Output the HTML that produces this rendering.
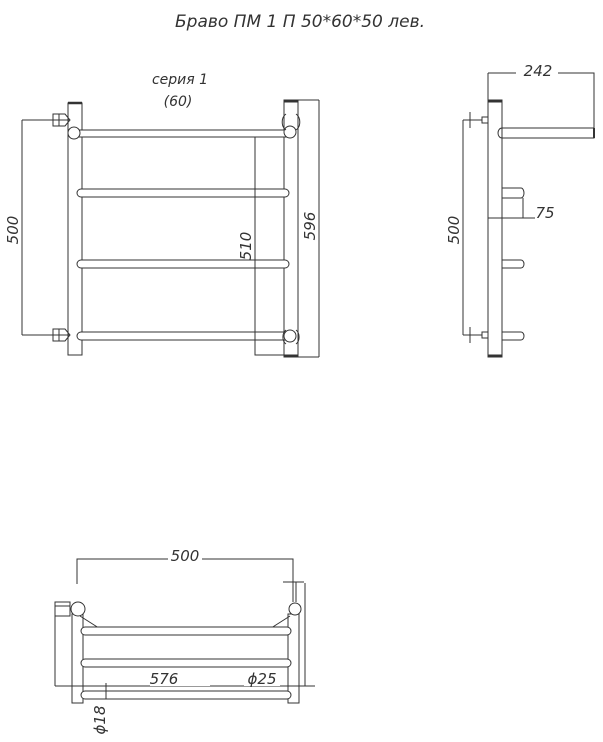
<!DOCTYPE html>
<html><head><style>body{margin:0;background:#fff}svg{display:block}text{font-family:"DejaVu Sans","Liberation Sans",sans-serif;font-style:italic;fill:#333}</style></head>
<body>
<svg width="603" height="742" viewBox="0 0 603 742" xmlns="http://www.w3.org/2000/svg" fill="none" stroke="#333" stroke-width="1">
<text x="300" y="27" font-size="17" text-anchor="middle" stroke="none" font-weight="300">Браво ПМ 1 П 50*60*50 лев.</text>
<text x="180" y="84" font-size="14" text-anchor="middle" stroke="none">серия 1</text>
<text x="178" y="106" font-size="14" text-anchor="middle" stroke="none">(60)</text>
<!-- Front view -->
<rect x="68" y="103" width="14" height="252"/>
<line x1="68" y1="103" x2="82" y2="103" stroke-width="2.5"/>
<rect x="284" y="100" width="14" height="257"/>
<line x1="284" y1="101" x2="298" y2="101" stroke-width="3"/>
<line x1="284" y1="356" x2="298" y2="356" stroke-width="3"/>
<rect x="73" y="130" width="217" height="7" rx="3.5" fill="#fff"/>
<rect x="77" y="189" width="212" height="8" rx="4" fill="#fff"/>
<rect x="77" y="260" width="212" height="8" rx="4" fill="#fff"/>
<rect x="77" y="332" width="212" height="8" rx="4" fill="#fff"/>
<circle cx="74" cy="133" r="6" fill="#fff"/>
<circle cx="290" cy="132" r="6" fill="#fff"/>
<circle cx="290" cy="336" r="6" fill="#fff"/>
<path d="M286 114 a7 9 0 0 0 0 16 M296 114 a7 9 0 0 1 0 16 M286 330 a6 8 0 0 0 0 14 M296 330 a6 8 0 0 1 0 14"/>
<path d="M53 114 h12 l5 6 l-5 6 h-12 z M59 114 v12 M53 120 h16"/>
<path d="M53 329 h12 l5 6 l-5 6 h-12 z M59 329 v12 M53 335 h16"/>
<path d="M22 120 h35 M22 120 v215 M22 335 h35"/>
<text transform="translate(22 230) rotate(-90)" font-size="15" text-anchor="middle" stroke="none" dy="-4">500</text>
<path d="M255 137 v218 h29"/>
<text transform="translate(255 246) rotate(-90)" font-size="15" text-anchor="middle" stroke="none" dy="-4">510</text>
<path d="M298 100 h21 M319 100 v257 M298 357 h21"/>
<text transform="translate(319 226) rotate(-90)" font-size="15" text-anchor="middle" stroke="none" dy="-4">596</text>
<!-- Side view -->
<rect x="488" y="100" width="14" height="257"/>
<line x1="488" y1="101" x2="502" y2="101" stroke-width="3"/>
<line x1="488" y1="356" x2="502" y2="356" stroke-width="3"/>
<path d="M502 128 h92 v10 h-92 a4 5 0 0 1 0 -10"/>
<line x1="594" y1="128" x2="594" y2="138" stroke-width="2"/>
<path d="M502 188 h19 a3 5 0 0 1 0 10 h-19"/>
<path d="M502 260 h19 a3 4 0 0 1 0 8 h-19"/>
<path d="M502 332 h19 a3 4 0 0 1 0 8 h-19"/>
<path d="M470 112 v16 M470 120 h12 M482 117 h6 v6 h-6 z"/>
<path d="M470 327 v16 M470 335 h12 M482 332 h6 v6 h-6 z"/>
<path d="M463 120 h8 M463 120 v215 M463 335 h8"/>
<text transform="translate(463 230) rotate(-90)" font-size="15" text-anchor="middle" stroke="none" dy="-4">500</text>
<path d="M488 73 h106 v55 M488 73 v27"/>
<rect x="516" y="64" width="42" height="14" fill="#fff" stroke="none"/>
<text x="538" y="76" font-size="15" text-anchor="middle" stroke="none">242</text>
<path d="M488 218 h47 M523 198 v20"/>
<text x="545" y="218" font-size="15" text-anchor="middle" stroke="none">75</text>
<!-- Bottom view -->
<path d="M77 584 v-25 h216 v40"/>
<rect x="168" y="549" width="34" height="14" fill="#fff" stroke="none"/>
<text x="185" y="561" font-size="15" text-anchor="middle" stroke="none">500</text>
<path d="M283 582 h21 M293 582 v20 M296 582 v20"/>
<rect x="55" y="602" width="15" height="14"/>
<path d="M55 606 h15"/>
<rect x="72" y="614" width="11" height="89"/>
<rect x="288" y="614" width="11" height="89"/>
<path d="M80 616 l22 14 M290 616 l-22 14"/>
<rect x="81" y="627" width="210" height="8" rx="4" fill="#fff"/>
<rect x="81" y="659" width="210" height="8" rx="4" fill="#fff"/>
<rect x="81" y="691" width="210" height="8" rx="4" fill="#fff"/>
<circle cx="78" cy="609" r="7" fill="#fff"/>
<circle cx="295" cy="609" r="6" fill="#fff"/>
<path d="M55 616 v70 M305 583 v103 M55 686 h260"/>
<rect x="150" y="672" width="60" height="14" fill="#fff" stroke="none"/>
<rect x="244" y="672" width="36" height="14" fill="#fff" stroke="none"/>
<text x="164" y="684" font-size="15" text-anchor="middle" stroke="none">576</text>
<text x="262" y="684" font-size="15" text-anchor="middle" stroke="none">ϕ25</text>
<path d="M106 683 v16"/>
<text transform="translate(108 720) rotate(-90)" font-size="15" text-anchor="middle" stroke="none" dy="-3">ϕ18</text>
</svg>
</body></html>
